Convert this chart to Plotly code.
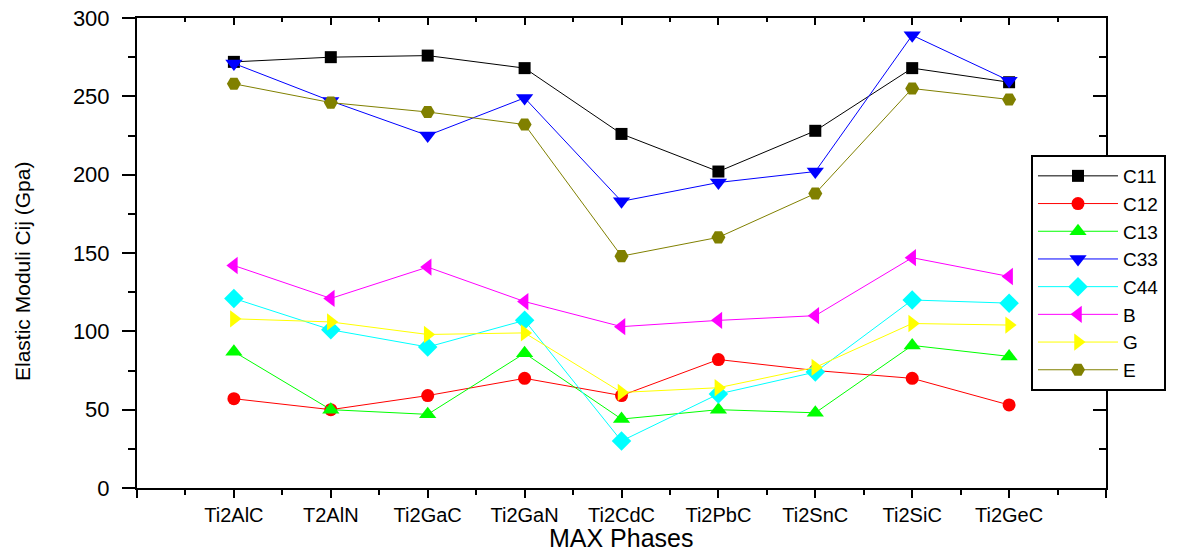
import plotly.graph_objects as go

phases = ["Ti2AlC", "T2AlN", "Ti2GaC", "Ti2GaN", "Ti2CdC", "Ti2PbC", "Ti2SnC", "Ti2SiC", "Ti2GeC"]
positions = [1, 2, 3, 4, 5, 6, 7, 8, 9]

C11 = [272, 275, 276, 268, 226, 202, 228, 268, 259]
C12 = [57, 50, 59, 70, 59, 82, 75, 70, 53]
C13 = [87, 50, 47, 86, 44, 50, 48, 91, 84]
C33 = [271, 247, 225, 249, 183, 195, 202, 289, 260]
C44 = [121, 101, 90, 107, 30, 60, 74, 120, 118]
B = [142, 121, 141, 119, 103, 107, 110, 147, 135]
G = [108, 106, 98, 99, 61, 64, 77, 105, 104]
E = [258, 246, 240, 232, 148, 160, 188, 255, 248]

y_ticks = [0, 50, 100, 150, 200, 250, 300]

series = [
    ("C11", C11, "#000000", "square", 12),
    ("C12", C12, "#ff0000", "circle", 13),
    ("C13", C13, "#00ff00", "triangle-up", 15),
    ("C33", C33, "#0000ff", "triangle-down", 15),
    ("C44", C44, "#00ffff", "diamond", 15),
    ("B", B, "#ff00ff", "triangle-left", 15),
    ("G", G, "#ffff00", "triangle-right", 15),
    ("E", E, "#808000", "hexagon2", 14),
]

fig = go.Figure()
for name, vals, color, sym, size in series:
    fig.add_trace(go.Scatter(
        x=positions, y=vals, name=name, mode="lines+markers",
        line=dict(color=color, width=1),
        marker=dict(symbol=sym, size=size, color=color, line=dict(width=0)),
    ))

# empty trace so the top/right frame axes (with inward ticks) get drawn
fig.add_trace(go.Scatter(x=[None], y=[None], xaxis="x2", yaxis="y2",
                         showlegend=False, hoverinfo="skip", mode="markers"))

font_main = "Liberation Sans, Arial, sans-serif"
minor_x = [p + 0.5 for p in [0] + positions]

fig.update_layout(
    width=1203, height=553,
    margin=dict(l=137, r=97, t=18, b=65, autoexpand=False),
    paper_bgcolor="white", plot_bgcolor="white",
    font=dict(family=font_main, color="black"),
    showlegend=True,
    legend=dict(
        x=0.9226, y=0.7085, xanchor="left", yanchor="top",
        bgcolor="white", bordercolor="black", borderwidth=2,
        font=dict(size=19, family=font_main, color="black"),
        itemwidth=80, tracegroupgap=0,
    ),
    xaxis=dict(
        range=[0, 10], tickmode="array", automargin=False,
        tickvals=[0] + positions + [10], ticktext=[""] + phases + [""],
        ticks="outside", ticklen=8, tickwidth=2, tickcolor="black",
        showline=True, linewidth=2, linecolor="black",
        showgrid=False, zeroline=False, ticklabeloverflow="allow",
        tickfont=dict(size=20, family=font_main, color="black"),
        minor=dict(tickvals=minor_x, ticks="outside",
                   ticklen=5, tickwidth=2, tickcolor="black", showgrid=False),
    ),
    yaxis=dict(
        range=[0, 300], tickmode="array", tickvals=y_ticks, automargin=False,
        ticks="outside", ticklen=13, tickwidth=2, tickcolor="black",
        ticklabelstandoff=8, ticklabeloverflow="allow",
        showline=True, linewidth=2, linecolor="black",
        showgrid=False, zeroline=False,
        tickfont=dict(size=22, family=font_main, color="black"),
        minor=dict(dtick=25, ticks="outside", ticklen=7, tickwidth=2,
                   tickcolor="black", showgrid=False),
    ),
    xaxis2=dict(
        overlaying="x", side="top", anchor="y2", range=[0, 10], automargin=False,
        tickmode="array", tickvals=[0] + positions + [10], showticklabels=False,
        ticks="inside", ticklen=7, tickwidth=2, tickcolor="black",
        showline=True, linewidth=2, linecolor="black", showgrid=False, zeroline=False,
        minor=dict(tickvals=minor_x, ticks="inside",
                   ticklen=4, tickwidth=2, tickcolor="black", showgrid=False),
    ),
    yaxis2=dict(
        overlaying="y", side="right", anchor="x2", range=[0, 300], automargin=False,
        tickmode="array", tickvals=y_ticks, showticklabels=False,
        ticks="inside", ticklen=13, tickwidth=2, tickcolor="black",
        showline=True, linewidth=2, linecolor="black", showgrid=False, zeroline=False,
        minor=dict(dtick=25, ticks="inside", ticklen=7, tickwidth=2,
                   tickcolor="black", showgrid=False),
    ),
    annotations=[
        dict(text="MAX Phases", xref="paper", yref="paper", x=0.5, y=-0.1383,
             xanchor="center", yanchor="bottom", showarrow=False, borderpad=0,
             font=dict(size=25, family=font_main, color="black")),
        dict(text="Elastic Moduli Cij (Gpa)", xref="paper", yref="paper",
             x=-0.1187, y=0.4617, xanchor="center", yanchor="middle",
             textangle=-90, showarrow=False,
             font=dict(size=21, family=font_main, color="black")),
    ],
)

fig.write_html(
    "out.html",
    config={"displayModeBar": False},
    post_script="document.body.style.margin='0';document.body.style.padding='0';",
)
